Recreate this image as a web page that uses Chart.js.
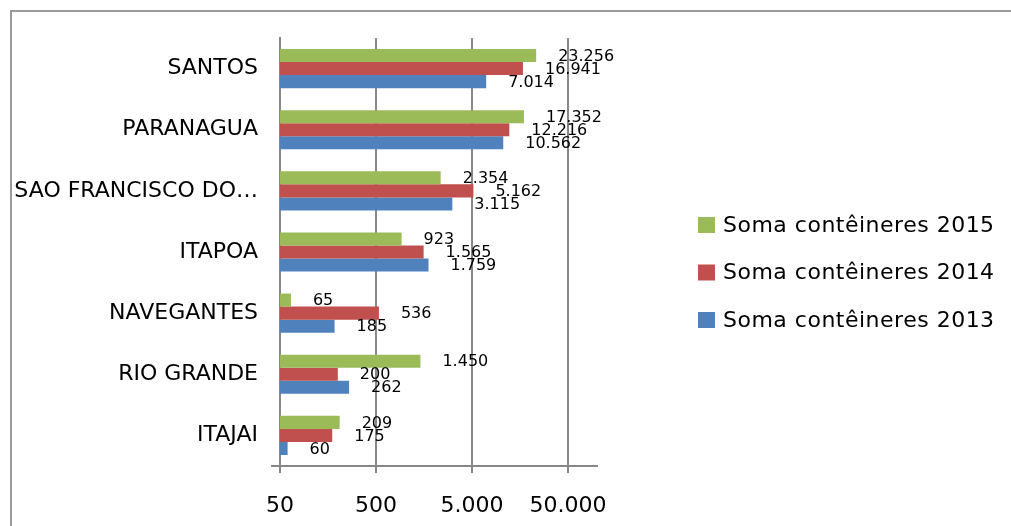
<!DOCTYPE html>
<html>
<head>
<meta charset="utf-8">
<script src="https://cdn.jsdelivr.net/npm/chart.js@4.4.0/dist/chart.umd.min.js"></script>
<style>
  html, body { margin: 0; padding: 0; background: #fff; }
</style>
</head>
<body>
<canvas id="myChart" width="1011" height="526"></canvas>
<script>
const ports = ["SANTOS", "PARANAGUA", "SAO FRANCISCO DO…", "ITAPOA", "NAVEGANTES", "RIO GRANDE", "ITAJAI"];
const soma2015 = [23256, 17352, 2354, 923, 65, 1450, 209];
const soma2014 = [16941, 12216, 5162, 1565, 536, 200, 175];
const soma2013 = [7014, 10562, 3115, 1759, 185, 262, 60];
const xTicks = [50, 500, 5000, 50000];

function fmt(v) {
    return String(v).replace(/\B(?=(\d{3})+(?!\d))/g, '.');
}

Chart.defaults.font.family = "'DejaVu Sans', sans-serif";
Chart.defaults.color = '#000';

// gray frame around the chart, plus the little axis stub at the bottom left
const frame = {
    id: 'frame',
    beforeDraw(chart) {
        const ctx = chart.ctx;
        ctx.save();
        ctx.strokeStyle = '#9a9a9a';
        ctx.lineWidth = 2;
        ctx.strokeRect(11, 11, 1100, 700);
        ctx.restore();
    },
    afterDraw(chart) {
        const a = chart.chartArea;
        const ctx = chart.ctx;
        ctx.save();
        ctx.strokeStyle = '#888';
        ctx.lineWidth = 2;
        ctx.beginPath();
        ctx.moveTo(a.left - 9, Math.round(a.bottom));
        ctx.lineTo(a.left, Math.round(a.bottom));
        ctx.stroke();
        ctx.restore();
    }
};

// value labels beside each bar
const valueLabels = {
    id: 'valueLabels',
    afterDatasetsDraw(chart) {
        const ctx = chart.ctx;
        ctx.save();
        ctx.font = "16px 'DejaVu Sans'";
        ctx.fillStyle = '#000';
        ctx.textAlign = 'left';
        ctx.textBaseline = 'middle';
        chart.data.datasets.forEach((ds, i) => {
            chart.getDatasetMeta(i).data.forEach((bar, j) => {
                ctx.fillText(fmt(ds.data[j]), bar.x + 22, bar.y + 1);
            });
        });
        ctx.restore();
    }
};

// legend on the right, drawn from the datasets
const sideLegend = {
    id: 'sideLegend',
    afterDraw(chart) {
        const ctx = chart.ctx;
        ctx.save();
        ctx.font = "22px 'DejaVu Sans'";
        ctx.letterSpacing = '0.5px';
        ctx.textAlign = 'left';
        ctx.textBaseline = 'middle';
        chart.data.datasets.forEach((ds, i) => {
            const y = 225 + i * 47.5;
            ctx.fillStyle = ds.backgroundColor;
            ctx.fillRect(698, y - 8, 17, 16);
            ctx.fillStyle = '#000';
            ctx.fillText(ds.label, 723, y + 1);
        });
        ctx.restore();
    }
};

const ctx = document.getElementById('myChart').getContext('2d');
new Chart(ctx, {
    type: 'bar',
    data: {
        labels: ports,
        datasets: [
            { label: 'Soma contêineres 2015', data: soma2015, backgroundColor: '#9BBB59' },
            { label: 'Soma contêineres 2014', data: soma2014, backgroundColor: '#C0504D' },
            { label: 'Soma contêineres 2013', data: soma2013, backgroundColor: '#4F81BD' }
        ]
    },
    options: {
        indexAxis: 'y',
        responsive: false,
        animation: false,
        categoryPercentage: 0.64,
        barPercentage: 1.0,
        layout: { padding: { top: 38, bottom: 6, left: 0, right: 414 } },
        scales: {
            x: {
                type: 'logarithmic',
                min: 50,
                max: 100000,
                afterBuildTicks: s => { s.ticks = xTicks.map(v => ({ value: v })); },
                afterFit: s => { s.height = 54; },
                grid: { color: '#888', lineWidth: 2, tickLength: 7 },
                border: { color: '#888', width: 2 },
                ticks: {
                    padding: 20,
                    font: { size: 22 },
                    maxRotation: 0,
                    callback: v => fmt(v)
                }
            },
            y: {
                afterFit: s => { s.width = 280; },
                grid: { display: false, drawTicks: false },
                border: { color: '#888', width: 2 },
                ticks: { padding: 22, font: { size: 22 } }
            }
        },
        plugins: {
            legend: { display: false },
            tooltip: { enabled: false }
        }
    },
    plugins: [frame, valueLabels, sideLegend]
});
</script>
</body>
</html>
